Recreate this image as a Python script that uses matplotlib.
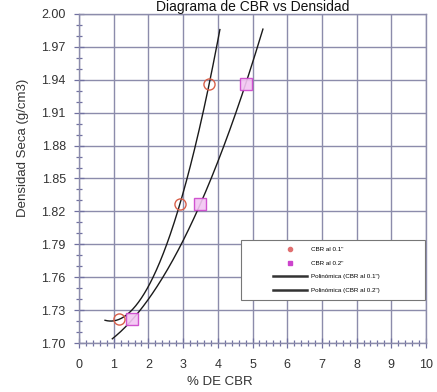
import numpy as np
import matplotlib
matplotlib.use("Agg")
import matplotlib.pyplot as plt
from matplotlib.lines import Line2D
from matplotlib.patches import Rectangle
from matplotlib.ticker import MultipleLocator, FixedLocator, FormatStrFormatter

plt.rcParams['font.family'] = ['Liberation Sans', 'DejaVu Sans']

# Data
cbr_01 = [1.15, 2.91, 3.75]
cbr_02 = [1.54, 3.50, 4.80]
densidad = [1.7215, 1.827, 1.936]
trend_range_01 = (0.75, 4.06)
trend_range_02 = (0.96, 5.30)
y_ticks = [1.70, 1.73, 1.76, 1.79, 1.82, 1.85, 1.88, 1.91, 1.94, 1.97, 2.00]
title = "Diagrama de CBR vs Densidad"
labels = ['CBR al 0.1"', 'CBR al 0.2"', 'Polinómica (CBR al 0.1")', 'Polinómica (CBR al 0.2")']

W, H = 437, 392
fig = plt.figure(figsize=(W / 100, H / 100), dpi=100)
ax = fig.add_axes([79 / W, 1 - 343 / H, 347 / W, 329 / H])

grid_c = '#8c8cab'
ax.set_xlim(0, 10)
ax.set_ylim(1.70, 2.00)
ax.xaxis.set_major_locator(MultipleLocator(1))
ax.xaxis.set_minor_locator(MultipleLocator(0.2))
ax.yaxis.set_major_locator(FixedLocator(y_ticks))
ax.yaxis.set_minor_locator(MultipleLocator(0.01))
ax.grid(which='major', color=grid_c, lw=1.0)
ax.set_axisbelow(True)
for s in ax.spines.values():
    s.set_color(grid_c)
    s.set_linewidth(1.0)
ax.tick_params(which='both', direction='inout', color='#7070a0', width=0.9)
ax.tick_params(which='major', length=7, labelsize=9, labelcolor='#333333', pad=6)
ax.tick_params(which='minor', length=5)
ax.tick_params(axis='x', which='major', pad=8)
ax.yaxis.set_major_formatter(FormatStrFormatter('%.2f'))

# trendlines
for xs, rng in ((cbr_01, trend_range_01), (cbr_02, trend_range_02)):
    coef = np.polyfit(xs, densidad, 2)
    xx = np.linspace(rng[0], rng[1], 200)
    ax.plot(xx, np.polyval(coef, xx), color='#1a1a1a', lw=1.0, zorder=3)

ax.plot(cbr_01, densidad, 'o', ms=8, mfc='none', mec='#d9604a', mew=1.0, zorder=4)
ax.plot(cbr_02, densidad, 's', ms=8, mfc='#f3c6f3', mec='#cc44cc', mew=1.0, alpha=0.9, zorder=4)

# legend
x0, x1 = (241 - 79) / 347, (425 - 79) / 347
y0, y1 = (343 - 300) / 329, (343 - 240) / 329
ax.add_patch(Rectangle((x0, y0), x1 - x0, y1 - y0, transform=ax.transAxes,
                       facecolor='white', edgecolor='#777777', lw=0.8, zorder=5))
handles = [
    Line2D([], [], ls='none', marker='o', ms=3, mfc='#e07070', mec='#e07070'),
    Line2D([], [], ls='none', marker='s', ms=3, mfc='#cc44cc', mec='#cc44cc'),
    Line2D([], [], color='#333333', lw=1.8),
    Line2D([], [], color='#333333', lw=1.8),
]
leg = ax.legend(handles, labels, loc='center', bbox_to_anchor=((x0 + x1) / 2 - 0.02, (y0 + y1) / 2),
                frameon=False, fontsize=4.5, handlelength=5.5, labelspacing=1.3,
                handletextpad=0.6)
leg.set_zorder(6)

fig.text((79 + 426) / 2 / W, 1 - 0.5 / H, title, ha='center', va='top', fontsize=10, color='#111111')
fig.text(220 / W, 1 - 382 / H, '% DE CBR', ha='center', va='center', fontsize=9.5, color='#333333')
fig.text(23 / W, 1 - 148 / H, 'Densidad Seca (g/cm3)', ha='center', va='center', rotation=90,
         fontsize=9.5, color='#333333')

fig.savefig('out.png', dpi=100)
